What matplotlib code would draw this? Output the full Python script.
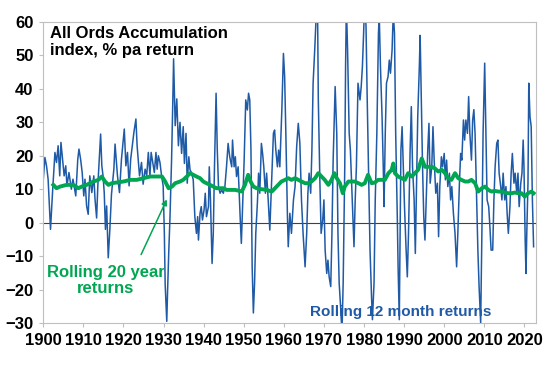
import matplotlib
matplotlib.use("Agg")
import matplotlib.pyplot as plt

plt.rcParams['font.family'] = ['Liberation Sans', 'DejaVu Sans']
plt.rcParams['font.weight'] = 'bold'

# rolling 12 month returns (% pa)
yr12 = [1900.0, 1900.4, 1900.8, 1901.2, 1901.8, 1902.3, 1902.9, 1903.3, 1903.7, 1904.1,
        1904.4, 1904.8, 1905.2, 1905.6, 1905.9, 1906.4, 1907.0, 1907.4, 1908.1, 1908.6,
        1908.9, 1909.3, 1909.7, 1910.1, 1910.4, 1910.8, 1911.2, 1911.6, 1912.1, 1912.6,
        1912.9, 1913.3, 1913.6, 1914.3, 1914.6, 1914.9, 1915.2, 1915.5, 1915.8, 1916.2,
        1916.6, 1917.0, 1917.6, 1917.9, 1918.5, 1919.0, 1919.5, 1920.2, 1920.6, 1921.0,
        1921.4, 1921.8, 1922.2, 1922.6, 1923.1, 1923.4, 1924.0, 1924.5, 1924.9, 1925.4,
        1925.8, 1926.2, 1926.6, 1926.9, 1927.3, 1927.7, 1928.1, 1928.4, 1928.7, 1929.1,
        1929.5, 1929.9, 1930.2, 1930.4, 1930.8, 1931.0, 1931.3, 1931.6, 1932.0, 1932.3,
        1932.5, 1932.9, 1933.3, 1933.7, 1934.1, 1934.5, 1934.9, 1935.2, 1935.6, 1935.9,
        1936.3, 1936.6, 1937.0, 1937.4, 1937.8, 1938.2, 1938.5, 1938.7, 1939.1, 1939.4,
        1939.7, 1940.1, 1940.4, 1940.7, 1941.2, 1941.4, 1941.7, 1942.1, 1942.4, 1942.7,
        1943.1, 1943.4, 1943.7, 1944.1, 1944.5, 1944.9, 1945.3, 1945.7, 1946.1, 1946.5,
        1947.0, 1947.2, 1947.6, 1947.9, 1948.2, 1948.6, 1949.1, 1949.4, 1949.7, 1950.1,
        1950.5, 1950.9, 1951.2, 1951.5, 1951.8, 1952.1, 1952.4, 1952.7, 1953.0, 1953.4,
        1953.7, 1954.0, 1954.4, 1954.7, 1955.0, 1955.4, 1955.7, 1956.1, 1956.5, 1956.9,
        1957.4, 1957.7, 1958.0, 1958.4, 1958.7, 1959.0, 1959.5, 1959.9, 1960.2, 1960.5,
        1960.9, 1961.1, 1961.5, 1961.9, 1962.4, 1962.8, 1963.2, 1963.6, 1964.0, 1964.4,
        1964.8, 1965.3, 1965.7, 1966.0, 1966.3, 1966.7, 1967.0, 1967.3, 1967.7, 1968.0,
        1968.3, 1968.6, 1969.0, 1969.3, 1969.7, 1970.0, 1970.3, 1970.7, 1971.0, 1971.3,
        1971.7, 1972.0, 1972.3, 1972.8, 1973.2, 1973.5, 1973.8, 1974.2, 1974.5, 1974.8,
        1975.2, 1975.4, 1975.6, 1975.9, 1976.3, 1976.6, 1976.9, 1977.3, 1977.5, 1977.8,
        1978.1, 1978.5, 1979.0, 1979.3, 1979.6, 1979.9, 1980.2, 1980.5, 1980.8, 1981.2,
        1981.5, 1981.9, 1982.1, 1982.5, 1982.8, 1983.2, 1983.6, 1983.8, 1984.1, 1984.5,
        1984.8, 1985.0, 1985.3, 1985.6, 1986.0, 1986.3, 1986.6, 1987.0, 1987.3, 1987.6,
        1987.9, 1988.3, 1988.5, 1988.8, 1989.0, 1989.2, 1989.5, 1989.8, 1990.1, 1990.5,
        1990.8, 1991.1, 1991.5, 1991.8, 1992.1, 1992.5, 1992.8, 1993.1, 1993.4, 1993.8,
        1994.0, 1994.3, 1994.6, 1994.9, 1995.2, 1995.5, 1995.9, 1996.2, 1996.5, 1996.9,
        1997.2, 1997.5, 1997.9, 1998.3, 1998.6, 1998.9, 1999.3, 1999.6, 2000.0, 2000.3,
        2000.6, 2000.9, 2001.3, 2001.6, 2001.9, 2002.3, 2002.7, 2003.1, 2003.4, 2003.8,
        2004.1, 2004.4, 2004.8, 2005.1, 2005.4, 2005.8, 2006.1, 2006.4, 2006.8, 2007.1,
        2007.4, 2007.7, 2008.1, 2008.4, 2008.7, 2009.1, 2009.4, 2009.7, 2010.1, 2010.4,
        2010.7, 2011.1, 2011.4, 2011.7, 2012.1, 2012.4, 2012.7, 2013.1, 2013.4, 2013.7,
        2014.1, 2014.4, 2014.7, 2015.1, 2015.4, 2015.7, 2016.0, 2016.4, 2016.7, 2017.0,
        2017.4, 2017.7, 2018.1, 2018.4, 2018.7, 2019.1, 2019.4, 2019.7, 2019.9, 2020.2,
        2020.4, 2020.6, 2020.9, 2021.1, 2021.4, 2021.7, 2022.0, 2022.3]
ret12 = [13, 19.5, 17, 13, -2, 9, 21, 18, 23, 14,
         24, 19, 14, 17, 11, 15, 10, 13, 8, 19,
         22, 19, 15, 8, 13, 5, 2.5, 14, 9, 14,
         7, 1.4, 11, 26.5, 17, 14, 9, -2, 5, -10.5,
         -2, 8.4, 16, 23.5, 14, 9, 19, 28, 17, 21,
         11, 19, 23, 27, 31, 23, 14, 18, 11.5, 16,
         14, 21, 14, 21, 18, 15, 21, 16, 20, 18,
         14, 11, -3.5, -18.5, -29.5, -20.5, -8.5, 1.5, 19, 36,
         49, 29, 37, 23, 30, 20.7, 28.7, 17.7, 26.7, 11.8,
         19.7, 15.8, 14.8, 12.8, 1.8, -3.2, 1.8, -5.2, 2.8, 4.8,
         0.8, 3.8, 8.8, 1.8, 4.8, 16.7, 6.8, -12.2, -3.2, 16.7,
         38.7, 21.7, 10.8, 8.8, 9.8, 8.8, 10.8, 16.7, 23.7, 19.7,
         16.7, 24.7, 16.7, 19.7, 13.8, 16.7, 1.8, -6.2, 4.8, 18.7,
         36.7, 33.7, 38.7, 36.7, 21.7, -13.2, -27, -18, -3.2, 5.8,
         14.8, 8.8, 23.7, 20.7, 16.7, 8.8, 14.8, 6.8, -2.2, 10.8,
         26.7, 27.7, 21.7, 16.7, 21.7, 16.7, 33.7, 50.6, 43.7, 26.7,
         1.8, -7.2, 2.8, -3.2, 6.8, 10.8, 22.7, 29.7, 23.7, 6.8,
         -3.2, -13.2, -3.2, 8.8, 14.8, 8.8, 21.7, 41.7, 51.6, 60,
         80, 36.7, 11.8, -3.2, 0.8, 6.8, -8.2, -15.2, -11.2, -16.2,
         -19.1, -3.2, 18.7, 40.7, 26.7, -3.2, -18, -26, -33, -18,
         16.7, 46.7, 65, 51.6, 26.7, 21.7, 11.8, -1.2, -7.2, 6.8,
         16.7, 41.7, 36.7, 40.7, 46.7, 56.6, 68, 58.6, 36.7, 10.8,
         -8.2, -23, -29, -18, 6.8, 26.7, 56.6, 62, 46.7, 31.7,
         16.7, 4.8, 26.7, 41.7, 43.7, 48.6, 44.7, 51.6, 63, 56.6,
         26.7, 1.8, -13.2, -29, -3.2, 21.7, 28.7, 16.7, 4.8, -8.2,
         -16.2, -3.2, 21.7, 34.7, 16.7, 6.8, -9.2, 11.8, 31.7, 46.7,
         56, 36.7, 16.7, 1.8, -5.2, 6.8, 21.7, 29.7, 11.8, 16.7,
         28.7, 18.7, 8.8, 11.8, -4.2, 10.8, 19.7, 16.7, 20.7, 12.8,
         18.7, 10.8, 14.8, 6.8, 10.8, 2.8, -3.2, -13.2, -3.2, 11.8,
         20.7, 18.7, 30.7, 24.7, 30.7, 26.7, 37.7, 26.7, 18.7, 30.7,
         33.8, 26.7, 6.8, -8.2, -19, -30, -3.2, 26.7, 47.7, 26.7,
         6.8, 4.8, -1.2, -8.2, -8.2, 6.8, 16.7, 23.7, 24.7, 14.8,
         10.8, 6.8, 14.8, 6.8, 10.8, 2.8, -3.2, 4.8, 14.8, 20.7,
         11.8, 14.8, 8.8, 14.8, 4.8, 11.8, 14.8, 24.7, 16.7, -5.2,
         -15.2, -3.2, 11.8, 41.7, 31.7, 28.7, 6.8, -7.2]

# rolling 20 year returns (% pa)
yr20 = [1902.5, 1903.3, 1904.2, 1905.8, 1907.5, 1908.75, 1909.6, 1910.8, 1912.5, 1913.75,
        1914.6, 1915.4, 1916.25, 1917.1, 1918.3, 1920.0, 1921.7, 1923.3, 1925.0, 1926.7,
        1928.3, 1929.6, 1930.4, 1931.25, 1932.1, 1932.9, 1934.1, 1934.9, 1935.8, 1936.6,
        1937.4, 1938.2, 1939.1, 1939.9, 1940.7, 1941.6, 1942.4, 1943.2, 1945.0, 1945.7,
        1947.8, 1948.6, 1949.5, 1950.3, 1951.1, 1951.7, 1952.4, 1953.2, 1954.5, 1955.7,
        1957.0, 1957.8, 1958.6, 1959.4, 1960.3, 1961.1, 1961.9, 1962.8, 1963.6, 1964.4,
        1965.3, 1966.1, 1966.9, 1967.8, 1968.6, 1969.4, 1970.2, 1971.1, 1971.9, 1972.6,
        1973.2, 1974.0, 1974.7, 1975.2, 1976.1, 1977.7, 1978.6, 1979.4, 1980.2, 1981.0,
        1981.9, 1982.7, 1983.5, 1985.2, 1986.1, 1986.9, 1987.3, 1987.7, 1988.5, 1989.4,
        1990.2, 1991.0, 1991.9, 1992.7, 1993.5, 1994.4, 1995.2, 1996.0, 1996.9, 1997.7,
        1998.5, 1999.4, 2000.2, 2001.0, 2001.8, 2002.7, 2003.5, 2004.3, 2005.2, 2006.0,
        2006.8, 2007.7, 2008.5, 2009.4, 2010.2, 2011.0, 2011.8, 2012.6, 2013.5, 2014.3,
        2015.1, 2016.0, 2016.8, 2017.6, 2018.5, 2019.3, 2020.1, 2020.9, 2021.8, 2022.3]
ret20 = [11.3, 10.3, 10.8, 11.3, 11.3, 10.3, 10.8, 11.3, 12.3, 12.8,
         13.8, 12.3, 11.3, 11.8, 12.0, 12.3, 12.8, 12.8, 13.3, 13.8,
         13.8, 13.8, 12.3, 10.3, 10.8, 11.8, 12.3, 12.8, 13.8, 14.8,
         14.3, 13.8, 13.3, 12.3, 11.8, 11.3, 10.8, 10.3, 10.3, 9.8,
         9.8, 9.6, 9.3, 11.3, 14.3, 12.3, 10.8, 10.3, 10.0, 9.8,
         9.3, 10.3, 11.3, 12.3, 12.8, 13.3, 12.8, 13.3, 12.8, 12.3,
         11.8, 11.8, 12.3, 13.3, 14.8, 13.8, 12.8, 11.3, 12.8, 14.8,
         13.3, 11.8, 8.8, 10.8, 12.3, 12.3, 11.8, 11.3, 11.8, 14.3,
         11.8, 12.0, 12.8, 12.8, 14.8, 15.8, 17.7, 14.8, 13.8, 13.3,
         12.8, 14.8, 13.8, 14.8, 15.8, 19.2, 16.7, 16.7, 16.7, 16.2,
         15.3, 15.8, 14.8, 13.3, 12.8, 14.8, 13.3, 12.8, 12.3, 12.3,
         12.8, 11.8, 9.3, 10.3, 10.8, 9.8, 9.3, 9.5, 9.3, 9.3,
         9.0, 8.8, 8.8, 9.0, 8.8, 8.8, 7.8, 8.8, 9.3, 8.8]

xticks = list(range(1900, 2021, 10))
yticks = list(range(-30, 61, 10))

blue = '#1f5aa6'
green = '#00a651'
grey = '#bfbfbf'

fig = plt.figure(figsize=(5.48, 3.66), dpi=100)
ax = fig.add_axes([43.3 / 548, 1 - 323 / 366, (536 - 43.3) / 548, (323 - 22) / 366])

ax.axhline(0, color='#404040', lw=0.8, zorder=1)
ax.plot(yr12, ret12, color=blue, lw=1.1, zorder=2)
ax.plot(yr20, ret20, color=green, lw=2.8, zorder=3)

ax.set_xlim(1900, 2022.9)
ax.set_ylim(-30, 60)
ax.set_xticks(xticks)
ax.set_yticks(yticks)
ax.tick_params(labelsize=12, length=3, color=grey, pad=4)
for s in ax.spines.values():
    s.set_color(grey)
    s.set_linewidth(0.8)

ax.text(1901.7, 58.8, 'All Ords Accumulation\nindex, % pa return', fontsize=12,
        fontweight='bold', va='top', ha='left', linespacing=1.15)
ax.text(1915.5, -17.2, 'Rolling 20 year\nreturns', color=green, fontsize=12,
        fontweight='bold', ha='center', va='center', linespacing=1.1)
ax.text(1966.5, -26.7, 'Rolling 12 month returns', color=blue, fontsize=11,
        fontweight='bold', ha='left', va='center')
ax.annotate('', xy=(1931.1, 7.7), xytext=(1924.1, -10.3),
            arrowprops=dict(arrowstyle='-|>', color=green, lw=1.1, mutation_scale=8))

fig.savefig('out.png', dpi=100)
